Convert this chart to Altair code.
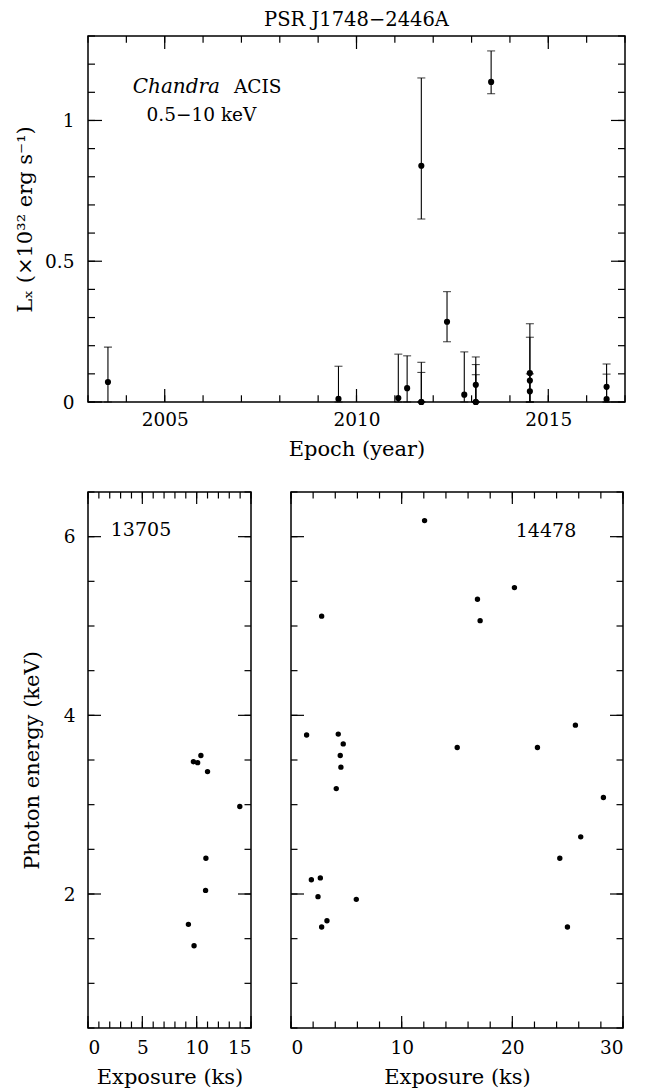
import altair as alt
import pandas as pd

FONT = "DejaVu Serif"

# ---------------- data ----------------
TITLE = "PSR J1748−2446A"
YEAR = [2003.52, 2009.53, 2011.09, 2011.32, 2011.69, 2011.69, 2011.69, 2012.36, 2012.81,
        2013.11, 2013.11, 2013.11, 2013.51, 2014.52, 2014.52, 2014.52, 2016.52, 2016.52]
LX = [0.071, 0.011, 0.014, 0.049, 0.839, 0.0, 0.0, 0.285, 0.026,
      0.061, 0.0, 0.0, 1.137, 0.103, 0.076, 0.038, 0.054, 0.010]
LX_LO = [0.0, 0.0, 0.0, 0.0, 0.650, 0.0, 0.0, 0.214, 0.0,
         0.0, 0.0, 0.0, 1.095, 0.0, 0.0, 0.0, 0.0, 0.0]
LX_HI = [0.195, 0.127, 0.170, 0.164, 1.151, 0.141, 0.105, 0.392, 0.178,
         0.160, 0.133, 0.097, 1.247, 0.278, 0.230, 0.100, 0.135, 0.099]

T13705 = [9.70, 10.09, 10.39, 11.00, 13.97, 10.85, 10.82, 9.24, 9.76]
E13705 = [3.48, 3.47, 3.55, 3.37, 2.98, 2.40, 2.04, 1.66, 1.42]

T14478 = [12.07, 2.77, 16.85, 17.09, 20.19, 1.41, 4.27, 4.72, 4.45, 4.51, 4.09, 15.02,
          22.27, 25.70, 28.23, 26.18, 24.29, 1.84, 2.65, 2.44, 5.90, 3.25, 2.77, 24.98]
E14478 = [6.18, 5.11, 5.30, 5.06, 5.43, 3.78, 3.79, 3.68, 3.55, 3.42, 3.18, 3.64,
          3.64, 3.89, 3.08, 2.64, 2.40, 2.16, 2.18, 1.97, 1.94, 1.70, 1.63, 1.63]

# tick values
TOP_X_MAJOR = [2005, 2010, 2015]
TOP_X_MINOR = list(range(2003, 2018))
TOP_Y_MAJOR = [0, 0.5, 1.0]
TOP_Y_MINOR = [round(0.1 * i, 1) for i in range(0, 14)]
E_Y_MAJOR = [2, 4, 6]
E_Y_MINOR = [0.5 * i for i in range(1, 14)]
L_X_MAJOR = [0, 5, 10, 15]
L_X_MINOR = list(range(0, 16))
R_X_MAJOR = [0, 10, 20, 30]
R_X_MINOR = list(range(0, 31, 2))

AX = dict(ticks=False, domain=False, grid=False, labelFont=FONT, labelFontSize=18.5,
          labelColor="black", titleFont=FONT, titleFontSize=21, titleFontWeight="normal",
          titleColor="black")


def frame_ticks(xmin, xmaj, ymin, ymaj, W, H, xaxis, yaxis, xl=(6.7, 13), yl=(7, 14)):
    layers = []
    for vals, L in ((xmin, xl[0]), (xmaj, xl[1])):
        base = alt.Chart(pd.DataFrame({"v": vals})).mark_rule(color="black", strokeWidth=1.2)
        layers.append(base.encode(x=alt.X("v:Q", axis=xaxis), y=alt.value(H), y2=alt.value(H - L)))
        layers.append(base.encode(x=alt.X("v:Q", axis=xaxis), y=alt.value(0), y2=alt.value(L)))
    for vals, L in ((ymin, yl[0]), (ymaj, yl[1])):
        base = alt.Chart(pd.DataFrame({"v": vals})).mark_rule(color="black", strokeWidth=1.2)
        layers.append(base.encode(y=alt.Y("v:Q", axis=yaxis), x=alt.value(0), x2=alt.value(L)))
        layers.append(base.encode(y=alt.Y("v:Q", axis=yaxis), x=alt.value(W), x2=alt.value(W - L)))
    return layers


ONE = pd.DataFrame({"k": [0]})


def label(text, px, py, align="center", italic=False, size=19):
    kw = dict(text=text, font=FONT, fontSize=size, align=align, baseline="alphabetic", color="black")
    if italic:
        kw["fontStyle"] = "italic"
    return alt.Chart(ONE).mark_text(**kw).encode(x=alt.value(px), y=alt.value(py))


# ---------------- top panel ----------------
TW, TH = 537, 366
top_df = pd.DataFrame({"year": YEAR, "lx": LX, "lo": LX_LO, "hi": LX_HI})
xs = alt.Scale(domain=[2003, 2017], nice=False, zero=False)
ys = alt.Scale(domain=[0, 1.3], nice=False, zero=False)
top_xaxis = alt.Axis(values=TOP_X_MAJOR, format="d", title="Epoch (year)",
                     labelPadding=8, titlePadding=10, **AX)
top_yaxis = alt.Axis(values=TOP_Y_MAJOR, format="~g", title="Lₓ (×10³² erg s⁻¹)",
                     labelPadding=14, titlePadding=9.5, **AX)

bars = alt.Chart(top_df).mark_rule(color="black", strokeWidth=1.1).encode(
    x=alt.X("year:Q", scale=xs, axis=top_xaxis),
    y=alt.Y("lo:Q", scale=ys, axis=top_yaxis),
    y2="hi:Q",
)
cap_hi = alt.Chart(top_df).mark_tick(orient="horizontal", size=8, thickness=1.1, color="black").encode(
    x=alt.X("year:Q", axis=top_xaxis), y=alt.Y("hi:Q", axis=top_yaxis))
cap_lo = alt.Chart(top_df).mark_tick(orient="horizontal", size=8, thickness=1.1, color="black").encode(
    x=alt.X("year:Q", axis=top_xaxis), y=alt.Y("lo:Q", axis=top_yaxis))
pts = alt.Chart(top_df).mark_circle(size=38, color="black", opacity=1).encode(
    x=alt.X("year:Q", axis=top_xaxis), y=alt.Y("lx:Q", axis=top_yaxis))

top = alt.layer(
    bars, cap_hi, cap_lo, pts,
    label("Chandra", 132, 57, align="right", italic=True, size=20),
    label("ACIS", 146, 57, align="left", size=18.5),
    label("0.5−10 keV", 113.5, 85, size=18.5),
    *frame_ticks(TOP_X_MINOR, TOP_X_MAJOR, TOP_Y_MINOR, TOP_Y_MAJOR, TW, TH, top_xaxis, top_yaxis)
).properties(
    width=TW, height=TH,
    title=alt.TitleParams(TITLE, font=FONT, fontSize=19.5, fontWeight="normal", color="black",
                          anchor="middle", offset=5),
)

# ---------------- bottom panels ----------------
BH = 536
LW, RW = 163, 332
ey = alt.Scale(domain=[0.5, 6.5], nice=False, zero=False)

l_xaxis = alt.Axis(values=L_X_MAJOR, format="d", title="Exposure (ks)",
                   labelPadding=10, titlePadding=10, **AX)
l_yaxis = alt.Axis(values=E_Y_MAJOR, format="d", title="Photon energy (keV)",
                   labelPadding=13, titlePadding=20.5, **AX)
r_xaxis = alt.Axis(values=R_X_MAJOR, format="d", title="Exposure (ks)",
                   labelPadding=10, titlePadding=10, **AX)

l_df = pd.DataFrame({"t": T13705, "e": E13705})
left_pts = alt.Chart(l_df).mark_circle(size=29, color="black", opacity=1).encode(
    x=alt.X("t:Q", scale=alt.Scale(domain=[0, 15], nice=False, zero=False), axis=l_xaxis),
    y=alt.Y("e:Q", scale=ey, axis=l_yaxis),
)
left = alt.layer(
    left_pts, label("13705", 53, 44),
    *frame_ticks(L_X_MINOR, L_X_MAJOR, E_Y_MINOR, E_Y_MAJOR, LW, BH, l_xaxis, l_yaxis,
                 xl=(6.5, 12), yl=(6.5, 13))
).properties(width=LW, height=BH)

r_df = pd.DataFrame({"t": T14478, "e": E14478})
right_pts = alt.Chart(r_df).mark_circle(size=29, color="black", opacity=1).encode(
    x=alt.X("t:Q", scale=alt.Scale(domain=[0, 30], nice=False, zero=False), axis=r_xaxis),
    y=alt.Y("e:Q", scale=ey, axis=None),
)
right = alt.layer(
    right_pts, label("14478", 255, 44.5),
    *frame_ticks(R_X_MINOR, R_X_MAJOR, E_Y_MINOR, E_Y_MAJOR, RW, BH, r_xaxis, None,
                 xl=(6.5, 12), yl=(6.5, 13))
).properties(width=RW, height=BH)

bottom = alt.hconcat(left, right, spacing=40, bounds="flush")

chart = alt.vconcat(top, bottom, spacing=90, bounds="flush").properties(
    padding={"left": 5, "right": 5, "top": 1, "bottom": 0},
    background="white",
).configure_view(stroke="black", strokeWidth=1.5)

chart.save("out.html", embed_options={"renderer": "svg", "actions": False})
